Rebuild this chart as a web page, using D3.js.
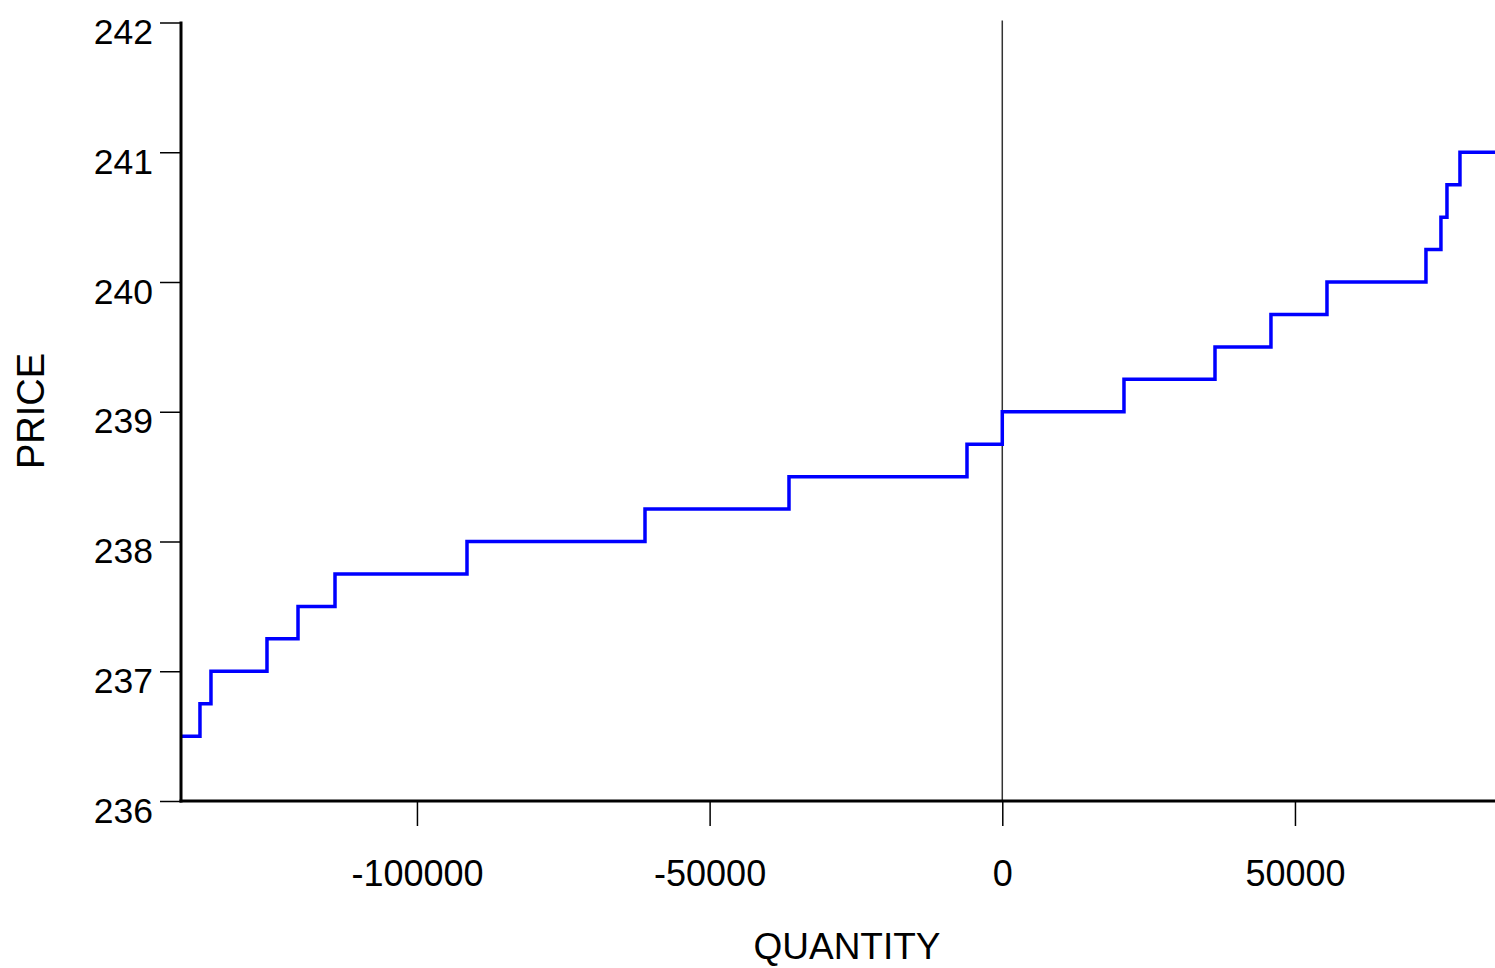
<!DOCTYPE html>
<html>
<head>
<meta charset="utf-8">
<script src="https://cdn.jsdelivr.net/npm/d3@7"></script>
<style>
  html, body { margin: 0; padding: 0; background: #fff; }
  svg { display: block; }
  text { font-family: "Liberation Sans", Arial, Helvetica, sans-serif; fill: #000; }
</style>
</head>
<body>
<svg id="chart" width="1495" height="968"></svg>
<script>
// Data: cumulative quantity (step start) and price level
const quantity = [-140310, -137070, -135190, -125620, -120320, -114000, -91450, -61040, -36440, -6030, 0, 20790, 36340, 45900, 55470, 72380, 74940, 75970, 78190, 85030];
const price    = [236.5, 236.75, 237, 237.25, 237.5, 237.75, 238, 238.25, 238.5, 238.75, 239, 239.25, 239.5, 239.75, 240, 240.25, 240.5, 240.75, 241, 241];
const xTicks = [-100000, -50000, 0, 50000];
const yTicks = [236, 237, 238, 239, 240, 241, 242];
const xDomain = [-140310, 85030];
const yDomain = [236, 242];

(function () {
const svg = d3.select("#chart");
const pLeft = 181, pRight = 1500, pTop = 22.5, pBottom = 801;

const x = d3.scaleLinear().domain(xDomain).range([pLeft, pRight]);
const y = d3.scaleLinear().domain(yDomain).range([pBottom, pTop]);

// zero reference line
svg.append("line")
  .attr("x1", x(0)).attr("x2", x(0))
  .attr("y1", pTop - 2).attr("y2", pBottom)
  .attr("stroke", "#333").attr("stroke-width", 1.5);

// step line
const pts = quantity.map((q, i) => [q, price[i]]);
svg.append("path")
  .datum(pts)
  .attr("fill", "none")
  .attr("stroke", "#0000ff")
  .attr("stroke-width", 3.5)
  .attr("d", d3.line().x(d => x(d[0])).y(d => y(d[1])).curve(d3.curveStepAfter));

// X axis
const xAxis = d3.axisBottom(x).tickValues(xTicks).tickSize(25).tickPadding(30)
  .tickFormat(d => String(d));
const gx = svg.append("g").attr("transform", `translate(0,${pBottom})`).call(xAxis);
gx.select(".domain").remove();
gx.selectAll(".tick line").attr("stroke", "#000").attr("stroke-width", 1.5);
gx.selectAll(".tick text").attr("font-size", 36).attr("dy", 0).attr("y", 85)
  .style("font-family", '"Liberation Sans", Arial, sans-serif');

// Y axis
const yAxis = d3.axisLeft(y).tickValues(yTicks).tickSize(21).tickPadding(7)
  .tickFormat(d => String(d));
const gy = svg.append("g").attr("transform", `translate(${pLeft},0)`).call(yAxis);
gy.select(".domain").remove();
gy.selectAll(".tick line").attr("stroke", "#000").attr("stroke-width", 1.5);
gy.selectAll(".tick text").attr("font-size", 35.5).attr("dy", 21).attr("x", -28)
  .style("font-family", '"Liberation Sans", Arial, sans-serif');

// axis lines (thick)
svg.append("line").attr("x1", pLeft).attr("x2", pLeft).attr("y1", pTop - 1).attr("y2", pBottom + 1.5)
  .attr("stroke", "#000").attr("stroke-width", 3);
svg.append("line").attr("x1", pLeft - 1.5).attr("x2", pRight).attr("y1", pBottom).attr("y2", pBottom)
  .attr("stroke", "#000").attr("stroke-width", 3);

// axis titles
svg.append("text")
  .attr("x", 847).attr("y", 959)
  .attr("text-anchor", "middle")
  .attr("font-size", 37)
  .text("QUANTITY");

svg.append("text")
  .attr("transform", "translate(44,411) rotate(-90)")
  .attr("text-anchor", "middle")
  .attr("font-size", 38)
  .text("PRICE");
})();
</script>
</body>
</html>
